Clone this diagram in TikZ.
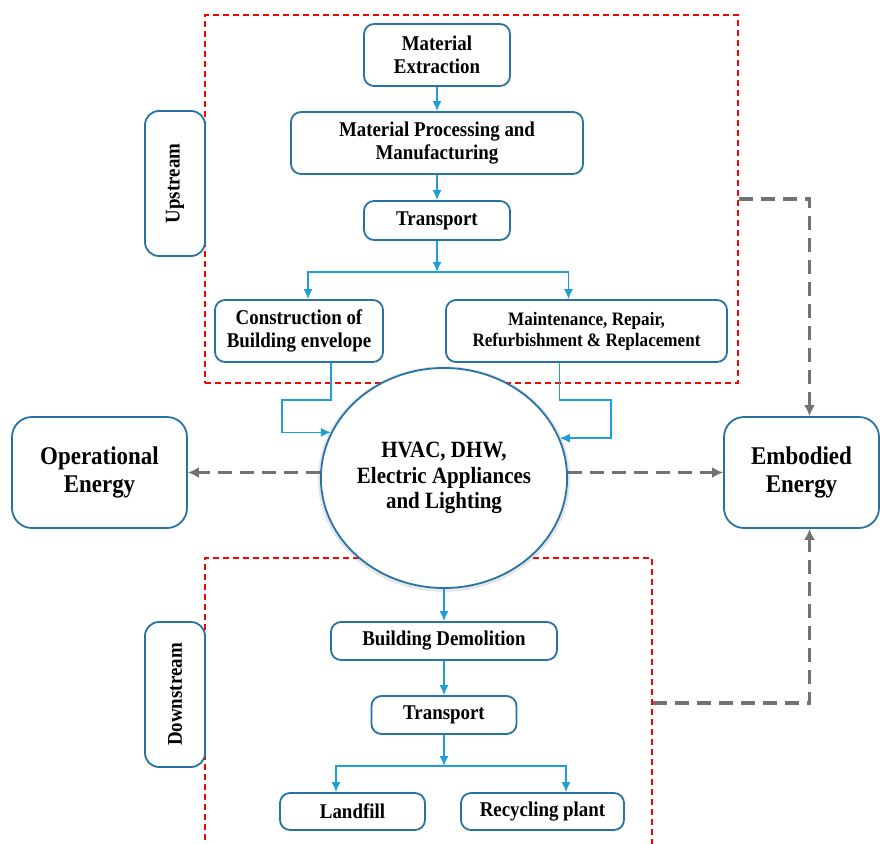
\documentclass[tikz,border=0pt]{standalone}
\usepackage{fontspec}
\setmainfont[FakeStretch=0.9]{Liberation Serif}
\usetikzlibrary{
	arrows.meta,
	shadows,
	shapes.geometric
}

\definecolor{stageblue}{RGB}{40,115,165}
\definecolor{flowblue}{RGB}{30,158,218}
\definecolor{energygray}{RGB}{118,113,113}

\begin{document}
\begin{tikzpicture}[
    x=1pt, y=-1pt,
    stage/.style={draw=stageblue, line width=1.8pt, rounded corners=10pt, fill=white, align=center, inner sep=0pt, font=\bfseries\fontsize{21}{23}\selectfont},
    sidelabel/.style={stage, rounded corners=14pt, rotate=90, minimum width=145pt, minimum height=60pt},
    energybox/.style={stage, rounded corners=20pt, minimum height=111pt, font=\bfseries\fontsize{25.5}{28}\selectfont},
    region/.style={draw=red, line width=1.8pt, dash pattern=on 6pt off 4pt, inner sep=0pt},
    flow/.style={-{Latex[length=10pt, width=9pt]}, draw=flowblue, line width=1.6pt},
    energy/.style={-{Latex[length=11pt, width=11pt]}, draw=energygray, line width=3.5pt, dash pattern=on 14pt off 8pt}
]
    % Definitions
    \useasboundingbox (0,0) rectangle (880,843);
    \coordinate (upsplit) at (437,272);
    \coordinate (downsplit) at (444,766);
    \coordinate (leftbend) at (282,400);
    \coordinate (rightbend) at (611,400);
    %%%
    %%% Upstream
    %%%
    % Red dashed region
    \node[region, minimum width=533pt, minimum height=368pt] (upregion) at (471.5,199) {};
    \node[sidelabel] (upstream) at (175,183.5) {Upstream};
    % Stages
    \node[stage, minimum width=146pt, minimum height=62pt] (extract) at (437,55) {Material\\Extraction};
    \node[stage, minimum width=292pt, minimum height=62pt] (process) at (437,143) {Material Processing and\\Manufacturing};
    \node[stage, minimum width=146pt, minimum height=39pt] (transport) at (437,220.5) {Transport};
    \node[stage, minimum width=168pt, minimum height=62pt] (construct) at (299,331) {Construction of\\Building envelope};
    \node[stage, minimum width=281pt, minimum height=62pt, font=\bfseries\fontsize{19}{21}\selectfont] (maintain) at (586.5,331) {Maintenance, Repair,\\Refurbishment \& Replacement};
    % Arrows
    \draw[flow] (extract) -- (process);
    \draw[flow] (process) -- (transport);
    \draw[flow] (transport) -- (upsplit);
    \draw[flow] (upsplit) -| ([xshift=9pt]construct.north);
    \draw[flow] (upsplit) -| ([xshift=-18pt]maintain.north);
    %%%
    %%% Downstream
    %%%
    % Red dashed region
    \node[region, minimum width=447pt, minimum height=290pt] (downregion) at (428.5,703) {};
    \node[sidelabel] (downstream) at (175,694.5) {Downstream};
    % Stages
    \node[stage, minimum width=226pt, minimum height=38pt] (demolish) at (444,641) {Building Demolition};
    \node[stage, minimum width=145pt, minimum height=38pt] (transportdown) at (444,715) {Transport};
    \node[stage, minimum width=145pt, minimum height=37pt] (landfill) at (352.5,811.5) {Landfill};
    \node[stage, minimum width=163pt, minimum height=37pt] (recycle) at (542.5,811.5) {Recycling plant};
    %%%
    %%% Use phase and energy
    %%%
    \node[ellipse, draw=stageblue, line width=1.8pt, fill=white, minimum width=243pt, minimum height=220pt, inner sep=0pt, align=center,
        drop shadow={shadow xshift=0pt, shadow yshift=-1pt, shadow scale=1.025, opacity=0.2},
        font=\bfseries\fontsize{23.3}{25.5}\selectfont] (hub) at (444,478) {HVAC, DHW,\\Electric Appliances\\and Lighting};
    \node[energybox, minimum width=175pt] (operational) at (99.5,472.5) {Operational\\Energy};
    \node[energybox, minimum width=155pt] (embodied) at (801.5,472.5) {Embodied\\Energy};
    % Into and out of the use phase
    \draw[flow] ([xshift=32pt]construct.south) |- (leftbend) |- (hub.158.5);
    \draw[flow] ([xshift=-27pt]maintain.south) |- (rightbend) |- (hub.19.5);
    \draw[flow] (hub) -- (demolish);
    \draw[flow] (demolish) -- (transportdown);
    \draw[flow] (transportdown) -- (downsplit);
    \draw[flow] (downsplit) -| ([xshift=-16.5pt]landfill.north);
    \draw[flow] (downsplit) -| ([xshift=23.5pt]recycle.north);
    % Energy links
    \draw[energy] (hub.west |- operational) -- (operational.east);
    \draw[energy] (hub.east |- embodied) -- (embodied.west);
    \draw[energy] (upregion.east) -| ([xshift=8pt]embodied.north);
    \draw[energy] (downregion.east) -| ([xshift=8pt]embodied.south);
\end{tikzpicture}
\end{document}
